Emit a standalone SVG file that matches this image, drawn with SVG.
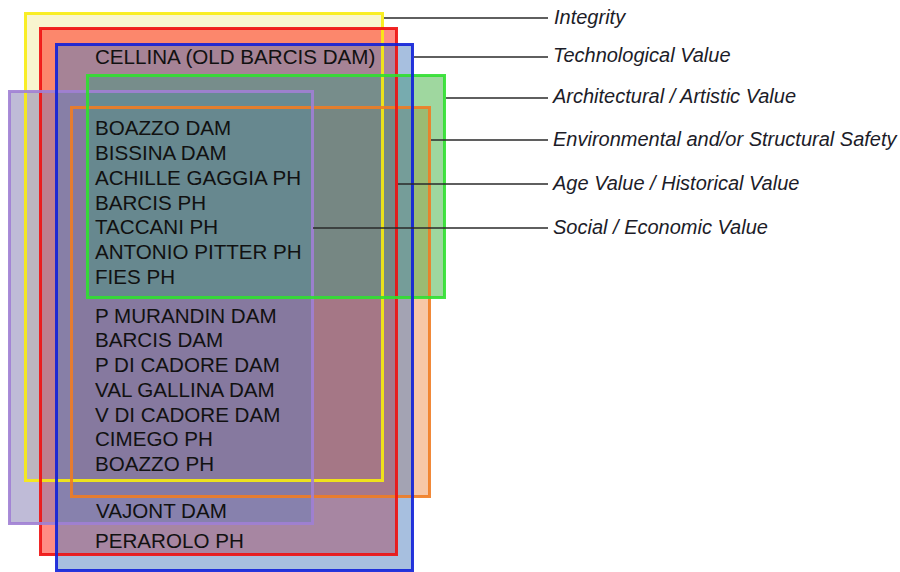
<svg xmlns="http://www.w3.org/2000/svg" width="900" height="572" viewBox="0 0 900 572">
<style>
.f{stroke:none;fill-opacity:0.5}
.b{fill:none;stroke-width:3;stroke-opacity:0.9}
.item{font-family:"Liberation Sans",Arial,sans-serif;font-size:20.6px;fill:#111111}
.lbl{font-family:"Liberation Sans",Arial,sans-serif;font-size:20px;font-style:italic;fill:#1c1c28}
.con{stroke:#2a2a2a;stroke-width:1.3;fill:none}
</style>
<rect width="900" height="572" fill="#ffffff"/>
<g id="fills">
<g id="set-integrity"><rect class="f" x="25.5" y="13.5" width="357" height="467" fill="#f2eba0"/></g>
<g id="set-environmental"><rect class="f" x="71.5" y="107.5" width="358" height="389" fill="#f09050"/></g>
<g id="set-age"><rect class="f" x="40.5" y="28.5" width="356" height="526" fill="#ff1a0a"/></g>
<g id="set-social"><rect class="f" x="9.5" y="91.5" width="303" height="432" fill="#8078b0"/></g>
<g id="set-architectural"><rect class="f" x="87.5" y="75.5" width="357" height="222" fill="#40b040"/></g>
<g id="set-technological"><rect class="f" x="56.5" y="44.5" width="356" height="526" fill="#5080c0"/></g>
</g>
<g id="borders">
<rect class="b" x="25.5" y="13.5" width="357" height="467" stroke="#f8ec10"/>
<rect class="b" x="71.5" y="107.5" width="358" height="389" stroke="#f07c24"/>
<rect class="b" x="40.5" y="28.5" width="356" height="526" stroke="#ee1010"/>
<rect class="b" x="9.5" y="91.5" width="303" height="432" stroke="#a07fd4"/>
<rect class="b" x="87.5" y="75.5" width="357" height="222" stroke="#30e030"/>
<rect class="b" x="56.5" y="44.5" width="356" height="526" stroke="#1020d8"/>
</g>
<g id="connectors">
<line class="con" x1="384" y1="18" x2="548" y2="18"/>
<line class="con" x1="414" y1="57" x2="548" y2="57"/>
<line class="con" x1="446" y1="98" x2="548" y2="98"/>
<line class="con" x1="431" y1="140" x2="548" y2="140"/>
<line class="con" x1="398" y1="184" x2="548" y2="184"/>
<line class="con" x1="313" y1="228" x2="548" y2="228"/>
</g>
<g id="labels">
<g id="label-integrity"><text class="lbl" x="554" y="24">Integrity</text></g>
<g id="label-technological"><text class="lbl" x="553" y="62">Technological Value</text></g>
<g id="label-architectural"><text class="lbl" x="553" y="103">Architectural / Artistic Value</text></g>
<g id="label-environmental"><text class="lbl" x="553" y="146">Environmental and/or Structural Safety</text></g>
<g id="label-age"><text class="lbl" x="553" y="190">Age Value / Historical Value</text></g>
<g id="label-social"><text class="lbl" x="553" y="234">Social / Economic Value</text></g>
</g>
<g id="items">
<g id="item-cellina"><text class="item" x="95" y="64">CELLINA (OLD BARCIS DAM)</text></g>
<g id="items-all">
<text class="item" x="95" y="135">BOAZZO DAM</text>
<text class="item" x="95" y="160">BISSINA DAM</text>
<text class="item" x="95" y="185">ACHILLE GAGGIA PH</text>
<text class="item" x="95" y="209.5">BARCIS PH</text>
<text class="item" x="95" y="234">TACCANI PH</text>
<text class="item" x="95" y="259">ANTONIO PITTER PH</text>
<text class="item" x="95" y="284">FIES PH</text>
</g>
<g id="items-no-arch">
<text class="item" x="95" y="322.5">P MURANDIN DAM</text>
<text class="item" x="95" y="347">BARCIS DAM</text>
<text class="item" x="95" y="372">P DI CADORE DAM</text>
<text class="item" x="95" y="397">VAL GALLINA DAM</text>
<text class="item" x="95" y="421.5">V DI CADORE DAM</text>
<text class="item" x="95" y="446">CIMEGO PH</text>
<text class="item" x="95" y="471">BOAZZO PH</text>
</g>
<g id="item-vajont"><text class="item" x="96" y="517.5">VAJONT DAM</text></g>
<g id="item-perarolo"><text class="item" x="95" y="547.5">PERAROLO PH</text></g>
</g>
</svg>
